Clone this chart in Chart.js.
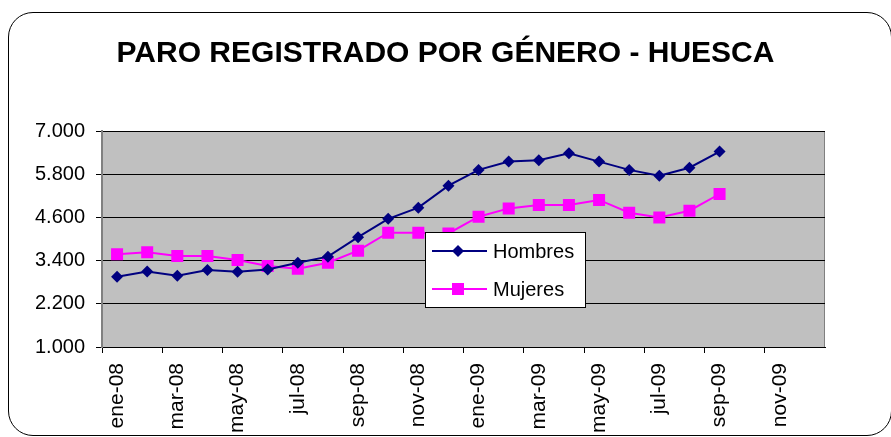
<!DOCTYPE html>
<html>
<head>
<meta charset="utf-8">
<script src="https://cdn.jsdelivr.net/npm/chart.js@4.4.1/dist/chart.umd.min.js"></script>
<style>
  html, body { margin: 0; padding: 0; background: #fff; }
  #wrap { position: relative; width: 891px; height: 437px; overflow: hidden; }
  #frame {
    position: absolute; left: 8px; top: 12px; width: 884px; height: 424px;
    border: 1px solid #000; border-radius: 25px; box-sizing: border-box;
  }
  #paroChart { position: absolute; left: 0; top: 0; }
</style>
</head>
<body>
<div id="wrap">
  <div id="frame"></div>
  <canvas id="paroChart" width="891" height="437"></canvas>
</div>
<script>
const months = [
  'ene-08', 'feb-08', 'mar-08', 'abr-08', 'may-08', 'jun-08', 'jul-08', 'ago-08', 'sep-08', 'oct-08', 'nov-08', 'dic-08',
  'ene-09', 'feb-09', 'mar-09', 'abr-09', 'may-09', 'jun-09', 'jul-09', 'ago-09', 'sep-09', 'oct-09', 'nov-09', 'dic-09'
];
const hombres = [2950, 3100, 2980, 3140, 3090, 3150, 3340, 3510, 4050, 4560, 4870, 5480, 5920, 6150, 6190, 6380, 6150, 5920, 5760, 5980, 6430];
const mujeres = [3575, 3630, 3530, 3530, 3415, 3250, 3175, 3340, 3675, 4175, 4175, 4155, 4620, 4850, 4945, 4945, 5085, 4730, 4600, 4785, 5250];
const yTicks = [1000, 2200, 3400, 4600, 5800, 7000];

const FONT = '"Liberation Sans", Arial, sans-serif';

function fmt(v) {
  return String(v).replace(/\B(?=(\d{3})+(?!\d))/g, '.');
}

// gray plot background + border
const plotBg = {
  id: 'plotBg',
  beforeDraw(chart) {
    const ca = chart.chartArea;
    const ctx = chart.ctx;
    ctx.save();
    ctx.fillStyle = '#C0C0C0';
    ctx.fillRect(ca.left, ca.top, ca.right - ca.left, ca.bottom - ca.top);
    ctx.strokeStyle = '#808080';
    ctx.lineWidth = 1;
    ctx.strokeRect(ca.left + 0.5, ca.top + 0.5, ca.right - ca.left - 1, ca.bottom - ca.top);
    ctx.restore();
  }
};

// legend box inside the plot, like the excel one
const boxLegend = {
  id: 'boxLegend',
  afterDatasetsDraw(chart) {
    const ca = chart.chartArea;
    const ctx = chart.ctx;
    const x = ca.left + 323, y = ca.top + 101, w = 160, h = 75;
    ctx.save();
    ctx.fillStyle = '#fff';
    ctx.fillRect(x, y, w, h);
    ctx.strokeStyle = '#000';
    ctx.lineWidth = 1;
    ctx.strokeRect(x + 0.5, y + 0.5, w, h);

    chart.data.datasets.forEach(function (ds, i) {
      const cy = y + 19 + i * 38;
      ctx.strokeStyle = ds.borderColor;
      ctx.lineWidth = ds.borderWidth;
      ctx.beginPath();
      ctx.moveTo(x + 7, cy);
      ctx.lineTo(x + 62, cy);
      ctx.stroke();
      ctx.fillStyle = ds.pointBackgroundColor;
      const mx = x + 33;
      if (ds.pointStyle === 'rectRot') {
        ctx.beginPath();
        ctx.moveTo(mx - 6, cy);
        ctx.lineTo(mx, cy - 6);
        ctx.lineTo(mx + 6, cy);
        ctx.lineTo(mx, cy + 6);
        ctx.closePath();
        ctx.fill();
      } else {
        ctx.fillRect(mx - 6, cy - 6, 12, 12);
      }
      ctx.fillStyle = '#000';
      ctx.font = '20px ' + FONT;
      ctx.textBaseline = 'middle';
      ctx.textAlign = 'left';
      ctx.fillText(ds.label, x + 68, cy + 1);
    });
    ctx.restore();
  }
};

new Chart(document.getElementById('paroChart'), {
  type: 'line',
  data: {
    labels: months,
    datasets: [
      {
        label: 'Hombres',
        data: hombres,
        borderColor: '#000080',
        backgroundColor: '#000080',
        pointBackgroundColor: '#000080',
        pointBorderColor: '#000080',
        borderWidth: 2,
        pointStyle: 'rectRot',
        pointRadius: 6,
        pointBorderWidth: 0,
        tension: 0
      },
      {
        label: 'Mujeres',
        data: mujeres,
        borderColor: '#FF00FF',
        backgroundColor: '#FF00FF',
        pointBackgroundColor: '#FF00FF',
        pointBorderColor: '#FF00FF',
        borderWidth: 2,
        pointStyle: 'rect',
        pointRadius: 8.5,
        pointBorderWidth: 0,
        tension: 0
      }
    ]
  },
  options: {
    responsive: false,
    animation: false,
    devicePixelRatio: 1,
    layout: {
      padding: 0
    },
    plugins: {
      legend: { display: false },
      tooltip: { enabled: false },
      title: {
        display: true,
        text: 'PARO REGISTRADO POR GÉNERO - HUESCA',
        color: '#000',
        font: { family: FONT, size: 30, weight: 'bold' },
        padding: { top: 36, bottom: 59 }
      }
    },
    scales: {
      x: {
        offset: true,
        afterFit: function (scale) { scale.height = 90; },
        grid: {
          offset: true,
          drawOnChartArea: false,
          drawTicks: true,
          tickLength: 6,
          color: function (ctx) { return ctx.index % 2 === 0 ? '#000' : 'rgba(0,0,0,0)'; }
        },
        border: { display: true, color: '#000', width: 1 },
        ticks: {
          autoSkip: false,
          minRotation: 90,
          maxRotation: 90,
          padding: 10,
          color: '#000',
          font: { family: FONT, size: 21 },
          callback: function (val, idx) { return idx % 2 === 0 ? months[idx] : ''; }
        }
      },
      y: {
        min: 1000,
        max: 7000,
        afterFit: function (scale) { scale.width = 102; },
        afterBuildTicks: function (scale) {
          scale.ticks = yTicks.map(function (v) { return { value: v }; });
        },
        grid: {
          color: '#000',
          lineWidth: 1,
          tickLength: 6
        },
        border: { display: true, color: '#808080', width: 2 },
        ticks: {
          padding: 11,
          color: '#000',
          font: { family: FONT, size: 20 },
          callback: function (v) { return fmt(v); }
        }
      },
      // empty right scale, only to keep space on the right side
      yRight: {
        position: 'right',
        min: 1000,
        max: 7000,
        afterFit: function (scale) { scale.width = 66; },
        grid: { drawOnChartArea: false, drawTicks: false },
        border: { display: false },
        ticks: { display: false }
      }
    }
  },
  plugins: [plotBg, boxLegend]
});
</script>
</body>
</html>
